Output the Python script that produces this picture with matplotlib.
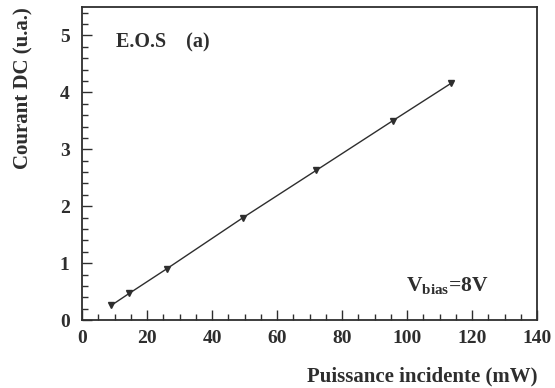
import matplotlib
matplotlib.use('Agg')
import matplotlib.pyplot as plt
from matplotlib.ticker import MultipleLocator

plt.rcParams['font.family'] = ['Liberation Serif', 'DejaVu Serif']
plt.rcParams['font.weight'] = 'bold'
plt.rcParams['mathtext.fontset'] = 'custom'
plt.rcParams['mathtext.rm'] = 'Liberation Serif:bold'
plt.rcParams['mathtext.bf'] = 'Liberation Serif:bold'

# Puissance incidente (mW) et courant DC mesure (u.a.)
puissance = [9.0, 14.5, 26.0, 49.5, 72.0, 95.5, 113.5]
courant = [0.26, 0.47, 0.90, 1.80, 2.63, 3.50, 4.16]

ink = '#2e2e2e'

fig = plt.figure(figsize=(5.55, 3.88), dpi=100)
ax = fig.add_axes([0.148, 0.175, 0.820, 0.807])

ax.plot(puissance, courant, color=ink, lw=1.0, marker='v', ms=4.5,
        mfc=ink, mec=ink)

ax.set_xlim(0, 140)
ax.set_ylim(0, 5.5)
ax.xaxis.set_major_locator(MultipleLocator(20))
ax.xaxis.set_minor_locator(MultipleLocator(5))
ax.yaxis.set_major_locator(MultipleLocator(1))
ax.yaxis.set_minor_locator(MultipleLocator(0.2))
ax.tick_params(which='both', direction='in', top=False, right=False,
               colors=ink, labelsize=14, width=1.0)
ax.tick_params(which='major', length=7)
ax.tick_params(which='minor', length=4)
ax.tick_params(axis='x', pad=7)
ax.tick_params(axis='y', pad=9)
for s in ax.spines.values():
    s.set_color(ink)
    s.set_linewidth(1.3)

ax.set_xlabel('Puissance incidente (mW)', fontsize=15, fontweight='bold',
              color=ink, loc='right', labelpad=14)
ax.set_ylabel('Courant DC (u.a.)', fontsize=15, fontweight='bold',
              color=ink, loc='top')
ax.yaxis.set_label_coords(-0.108, 1.0)

ax.text(10.5, 4.88, 'E.O.S    (a)', fontsize=14.5, fontweight='bold', color=ink,
        va='center')
ax.text(99.5, 0.6, r'V$_{\mathrm{bias}}$=8V', fontsize=15.5, fontweight='bold',
        color=ink, va='center')

fig.savefig('out.png', dpi=100, facecolor='white')
